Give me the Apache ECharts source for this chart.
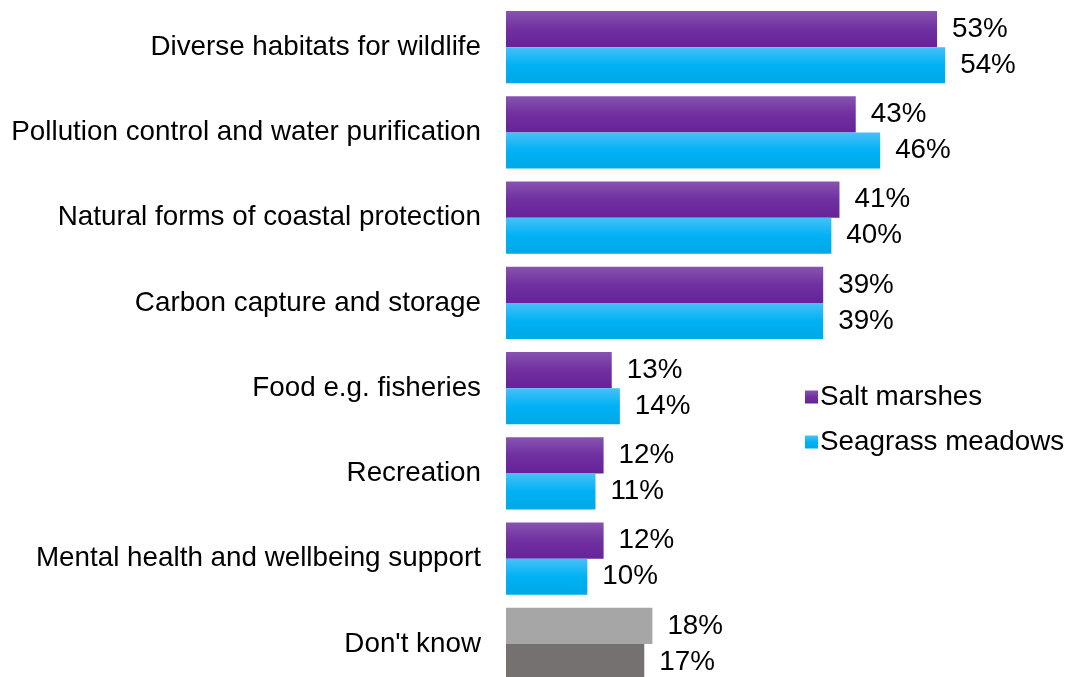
<!DOCTYPE html>
<html>
<head>
<meta charset="utf-8">
<script src="https://cdn.jsdelivr.net/npm/echarts@6/dist/echarts.min.js"></script>
<style>
  html, body { margin: 0; padding: 0; background: #fff; overflow: hidden; }
  #chart { width: 1069px; height: 692px; }
</style>
</head>
<body>
<div id="chart"></div>
<script>
// Benefits attributed to coastal habitats (% of respondents)
const categories = [
  'Diverse habitats for wildlife',
  'Pollution control and water purification',
  'Natural forms of coastal protection',
  'Carbon capture and storage',
  'Food e.g. fisheries',
  'Recreation',
  'Mental health and wellbeing support',
  "Don't know"
];
const saltMarshes = [53, 43, 41, 39, 13, 12, 12, 18];
const seagrassMeadows = [54, 46, 40, 39, 14, 11, 10, 17];
const seriesNames = ['Salt marshes', 'Seagrass meadows'];

const FONT = 'Liberation Sans, Arial, sans-serif';
const FONT_SIZE = 27.8;

function vGrad(stops) {
  return new echarts.graphic.LinearGradient(0, 0, 0, 1,
    stops.map((c, i) => ({ offset: i / (stops.length - 1), color: c })));
}
const purple = vGrad(['#8753b0', '#7030a0', '#66229a']);
const blue = vGrad(['#48c0f8', '#00b2f4', '#00a8e6']);
const dontKnowTop = '#a6a6a6';
const dontKnowBottom = '#767171';

// the "Don't know" row is drawn in greys instead of the series colours
function withGrey(values, grey) {
  return values.map((v, i) => i === categories.length - 1
    ? { value: v, itemStyle: { color: grey } }
    : v);
}

const labelOpt = {
  show: true,
  position: 'right',
  distance: 15,
  formatter: '{c}%',
  color: '#000',
  fontFamily: FONT,
  fontSize: FONT_SIZE
};

const chart = echarts.init(document.getElementById('chart'), null, { renderer: 'canvas' });
chart.setOption({
  animation: false,
  backgroundColor: '#fff',
  grid: { left: 506, right: 75, top: 4.5, height: 682, containLabel: false },
  xAxis: {
    type: 'value', min: 0, max: 60, show: false
  },
  yAxis: {
    type: 'category',
    data: categories,
    inverse: true,
    axisLine: { show: false },
    axisTick: { show: false },
    axisLabel: {
      color: '#000', fontFamily: FONT, fontSize: FONT_SIZE, margin: 25, align: 'right'
    }
  },
  legend: {
    orient: 'vertical',
    left: 800,
    top: 378,
    itemWidth: 13,
    itemHeight: 13,
    itemGap: 17,
    icon: 'rect',
    textStyle: { color: '#000', fontFamily: FONT, fontSize: FONT_SIZE, padding: [0, 0, 0, -3] },
    data: seriesNames
  },
  series: [
    {
      name: seriesNames[0],
      type: 'bar',
      data: withGrey(saltMarshes, dontKnowTop),
      itemStyle: { color: purple },
      barGap: '0%',
      barCategoryGap: '15.5%',
      label: labelOpt
    },
    {
      name: seriesNames[1],
      type: 'bar',
      data: withGrey(seagrassMeadows, dontKnowBottom),
      itemStyle: { color: blue },
      barGap: '0%',
      barCategoryGap: '15.5%',
      label: labelOpt
    }
  ]
});
</script>
</body>
</html>
